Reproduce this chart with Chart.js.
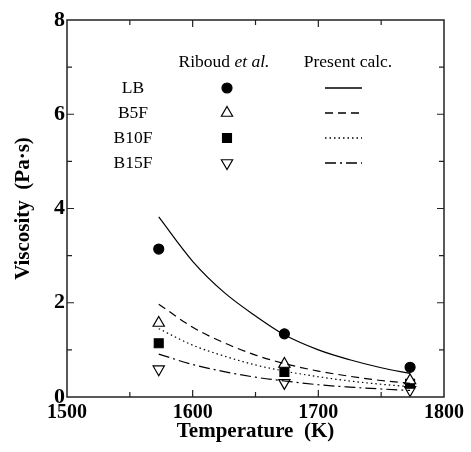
<!DOCTYPE html>
<html>
<head>
<meta charset="utf-8">
<script src="https://cdn.jsdelivr.net/npm/chart.js@4/dist/chart.umd.min.js"></script>
<style>
  html, body { margin: 0; padding: 0; background: #fff; }
  #wrap { width: 471px; height: 452px; }
</style>
</head>
<body>
<div id="wrap"><canvas id="c" width="471" height="452"></canvas></div>
<script>
// ---- data ----
const expTemps   = [1573, 1673, 1773];
const lbExp      = [3.14, 1.34, 0.63];
const b5fExp     = [1.57, 0.70, 0.35];
const b10fExp    = [1.14, 0.53, 0.28];
const b15fExp    = [0.59, 0.30, 0.15];

const calcTemps  = [1573, 1600, 1625, 1650, 1673, 1700, 1725, 1750, 1773];
const lbCalc     = [3.82, 2.88, 2.22, 1.72, 1.32, 1.00, 0.79, 0.62, 0.50];
const b5fCalc    = [1.97, 1.48, 1.15, 0.89, 0.71, 0.55, 0.44, 0.35, 0.29];
const b10fCalc   = [1.45, 1.10, 0.87, 0.68, 0.55, 0.43, 0.34, 0.27, 0.22];
const b15fCalc   = [0.91, 0.69, 0.54, 0.42, 0.34, 0.26, 0.21, 0.17, 0.14];

const seriesNames = ['LB', 'B5F', 'B10F', 'B15F'];
const xTickValues = [1500, 1600, 1700, 1800];
const xMinorTicks = [1550, 1650, 1750];
const yTickValues = [0, 2, 4, 6, 8];
const yMinorTicks = [1, 3, 5, 7];
const xTitle = 'Temperature  (K)';
const yTitle = 'Viscosity  (Pa\u00B7s)';
const expHeader = ['Riboud ', 'et al.'];
const calcHeader = 'Present calc.';

// ---- styles ----
const SERIF = '"Liberation Serif", "Times New Roman", serif';
const markerStyles = [
  { pointStyle: 'circle',   radius: 5,   fill: '#000', rotation: 0 },
  { pointStyle: 'triangle', radius: 6.5, fill: '#fff', rotation: 0 },
  { pointStyle: 'rect',     radius: 6.3, fill: '#000', rotation: 0 },
  { pointStyle: 'triangle', radius: 6.5, fill: '#fff', rotation: 180 }
];
const lineDashes = [[], [8, 5], [1.5, 3], [11, 4, 2, 4]];

function pts(xs, ys) { return xs.map((x, i) => ({ x: x, y: ys[i] })); }

const expSets = [lbExp, b5fExp, b10fExp, b15fExp];
const calcSets = [lbCalc, b5fCalc, b10fCalc, b15fCalc];

const datasets = [];
calcSets.forEach((vals, i) => {
  datasets.push({
    label: seriesNames[i] + ' calc',
    data: pts(calcTemps, vals),
    showLine: true,
    borderColor: '#000',
    borderWidth: 1.2,
    borderDash: lineDashes[i],
    pointRadius: 0,
    cubicInterpolationMode: 'monotone',
    fill: false
  });
});
expSets.forEach((vals, i) => {
  const m = markerStyles[i];
  datasets.push({
    label: seriesNames[i] + ' exp',
    data: pts(expTemps, vals),
    showLine: false,
    pointStyle: m.pointStyle,
    pointRadius: m.radius,
    pointRotation: m.rotation,
    pointBackgroundColor: m.fill,
    pointBorderColor: '#000',
    pointBorderWidth: 1.2
  });
});

const framePlugin = {
  id: 'frame',
  afterDraw(chart) {
    const ctx = chart.ctx;
    const a = chart.chartArea;
    const xs = chart.scales.x, ys = chart.scales.y;
    ctx.save();
    ctx.strokeStyle = '#222';
    ctx.lineWidth = 1.5;
    ctx.setLineDash([]);
    ctx.strokeRect(a.left, a.top, a.right - a.left, a.bottom - a.top);
    ctx.lineWidth = 1.2;
    const major = 7, minor = 5;
    ctx.beginPath();
    xTickValues.concat(xMinorTicks).forEach(v => {
      if (v <= xs.min || v >= xs.max) return;
      const len = xMinorTicks.includes(v) ? minor : major;
      const px = xs.getPixelForValue(v);
      ctx.moveTo(px, a.bottom); ctx.lineTo(px, a.bottom - len);
      ctx.moveTo(px, a.top); ctx.lineTo(px, a.top + len);
    });
    yTickValues.concat(yMinorTicks).forEach(v => {
      if (v <= ys.min || v >= ys.max) return;
      const len = yMinorTicks.includes(v) ? minor : major;
      const py = ys.getPixelForValue(v);
      ctx.moveTo(a.left, py); ctx.lineTo(a.left + len, py);
      ctx.moveTo(a.right, py); ctx.lineTo(a.right - len, py);
    });
    ctx.stroke();

    // axis titles
    ctx.fillStyle = '#000';
    ctx.font = 'bold 21px ' + SERIF;
    ctx.textAlign = 'center';
    ctx.textBaseline = 'middle';
    ctx.fillText(xTitle, (a.left + a.right) / 2, 432);
    ctx.save();
    ctx.translate(24, (a.top + a.bottom) / 2);
    ctx.rotate(-Math.PI / 2);
    ctx.fillText(yTitle, 0, 0);
    ctx.restore();

    // in-plot legend
    ctx.font = '17.5px ' + SERIF;
    ctx.textBaseline = 'middle';
    const headY = 62;
    ctx.textAlign = 'left';
    const w1 = ctx.measureText(expHeader[0]).width;
    ctx.font = 'italic 17.5px ' + SERIF;
    const w2 = ctx.measureText(expHeader[1]).width;
    let hx = 224 - (w1 + w2) / 2;
    ctx.font = '17.5px ' + SERIF;
    ctx.fillText(expHeader[0], hx, headY);
    ctx.font = 'italic 17.5px ' + SERIF;
    ctx.fillText(expHeader[1], hx + w1, headY);
    ctx.font = '17.5px ' + SERIF;
    ctx.textAlign = 'center';
    ctx.fillText(calcHeader, 348, headY);

    const rowsY = [88, 113, 138, 163];
    seriesNames.forEach((name, i) => {
      const y = rowsY[i];
      ctx.fillStyle = '#000';
      ctx.textAlign = 'center';
      ctx.fillText(name, 133, y);
      const m = markerStyles[i];
      ctx.fillStyle = m.fill;
      ctx.strokeStyle = '#000';
      ctx.lineWidth = 1.2;
      ctx.setLineDash([]);
      Chart.helpers.drawPoint(ctx, { pointStyle: m.pointStyle, radius: m.radius, rotation: m.rotation, borderWidth: 1.2 }, 227, y);
      ctx.beginPath();
      ctx.setLineDash(lineDashes[i]);
      ctx.lineWidth = 1.3;
      ctx.moveTo(325, y); ctx.lineTo(362, y);
      ctx.stroke();
      ctx.setLineDash([]);
    });
    ctx.restore();
  }
};

new Chart(document.getElementById('c'), {
  type: 'scatter',
  data: { datasets: datasets },
  options: {
    responsive: false,
    devicePixelRatio: 1,
    animation: false,
    layout: { padding: { left: 0, right: 27, top: 20, bottom: 0 } },
    plugins: { legend: { display: false }, tooltip: { enabled: false } },
    scales: {
      x: {
        type: 'linear', min: 1500, max: 1800,
        afterBuildTicks(s) { s.ticks = xTickValues.map(v => ({ value: v })); },
        afterFit(s) { s.height = 55; },
        grid: { display: false, drawTicks: false },
        border: { display: false },
        ticks: { padding: 4, color: '#000', font: { family: SERIF, size: 20, weight: 'bold' }, maxRotation: 0,
                 callback: v => String(v) }
      },
      y: {
        type: 'linear', min: 0, max: 8,
        afterBuildTicks(s) { s.ticks = yTickValues.map(v => ({ value: v })); },
        afterFit(s) { s.width = 67; },
        grid: { display: false, drawTicks: false },
        border: { display: false },
        ticks: { padding: 2, color: '#000', font: { family: SERIF, size: 22, weight: 'bold' },
                 callback: v => String(v) }
      }
    }
  },
  plugins: [framePlugin]
});
</script>
</body>
</html>
